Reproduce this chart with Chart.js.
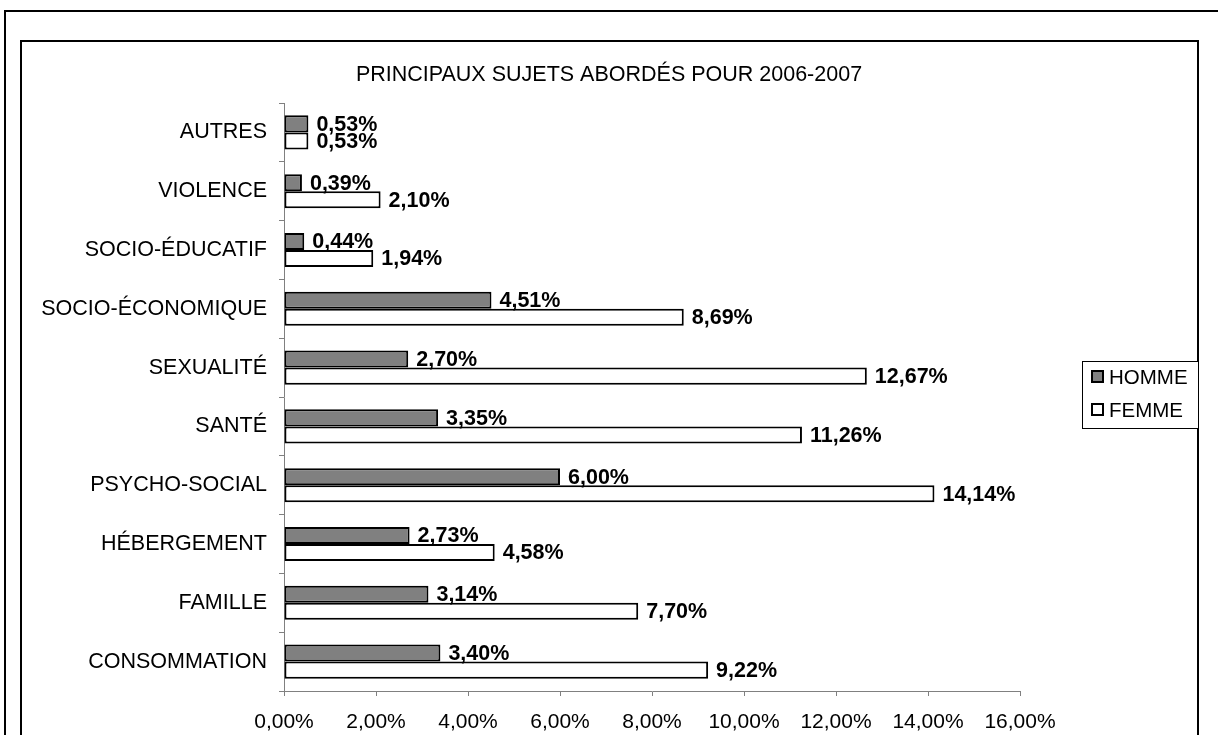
<!DOCTYPE html>
<html>
<head>
<meta charset="utf-8">
<script src="https://cdn.jsdelivr.net/npm/chart.js@4"></script>
<style>
  html, body { margin: 0; padding: 0; background: #fff; }
  #wrap { width: 1218px; height: 735px; position: relative; }
</style>
</head>
<body>
<div id="wrap"><canvas id="c"></canvas></div>
<script>
const chartTitle = 'PRINCIPAUX SUJETS ABORDÉS POUR 2006-2007';
const categories = ['AUTRES', 'VIOLENCE', 'SOCIO-ÉDUCATIF', 'SOCIO-ÉCONOMIQUE', 'SEXUALITÉ', 'SANTÉ', 'PSYCHO-SOCIAL', 'HÉBERGEMENT', 'FAMILLE', 'CONSOMMATION'];
const seriesNames = ['HOMME', 'FEMME'];
const homme = [0.53, 0.39, 0.44, 4.51, 2.70, 3.35, 6.00, 2.73, 3.14, 3.40];
const femme = [0.53, 2.10, 1.94, 8.69, 12.67, 11.26, 14.14, 4.58, 7.70, 9.22];
const xTicks = [0, 2, 4, 6, 8, 10, 12, 14, 16];

const FONT = "'Liberation Sans', Arial, sans-serif";
const fmt = v => v.toFixed(2).replace('.', ',') + '%';

const decorPlugin = {
  id: 'decor',
  beforeDraw(chart) {
    const ctx = chart.ctx;
    ctx.save();
    ctx.fillStyle = '#fff';
    ctx.fillRect(0, 0, chart.width, chart.height);
    ctx.strokeStyle = '#000';
    ctx.lineWidth = 2;
    // outer frame
    ctx.beginPath();
    ctx.moveTo(1230, 11);
    ctx.lineTo(5, 11);
    ctx.lineTo(5, 760);
    ctx.stroke();
    // inner frame
    ctx.beginPath();
    ctx.moveTo(21, 760);
    ctx.lineTo(21, 41);
    ctx.lineTo(1198, 41);
    ctx.lineTo(1198, 760);
    ctx.stroke();
    // title
    ctx.fillStyle = '#000';
    ctx.font = '21.5px ' + FONT;
    ctx.textAlign = 'center';
    ctx.textBaseline = 'middle';
    ctx.fillText(chartTitle, 609, 75);
    ctx.restore();
  },
  afterDraw(chart) {
    const ctx = chart.ctx;
    ctx.save();
    // data labels
    ctx.font = 'bold 21.5px ' + FONT;
    ctx.fillStyle = '#000';
    ctx.textAlign = 'left';
    ctx.textBaseline = 'middle';
    chart.data.datasets.forEach((ds, di) => {
      const meta = chart.getDatasetMeta(di);
      meta.data.forEach((el, i) => {
        ctx.fillText(fmt(ds.data[i]), el.x + 8, el.y + 1);
      });
    });
    // legend
    const lx = 1082, ly = 361, lw = 116, lh = 67;
    ctx.fillStyle = '#fff';
    ctx.fillRect(lx, ly, lw, lh);
    ctx.strokeStyle = '#000';
    ctx.lineWidth = 1;
    ctx.strokeRect(lx + 0.5, ly + 0.5, lw, lh);
    ctx.font = '20.5px ' + FONT;
    chart.data.datasets.forEach((ds, di) => {
      const cy = 377 + di * 33;
      ctx.fillStyle = ds.backgroundColor;
      ctx.fillRect(1092, cy - 6, 11, 11);
      ctx.strokeStyle = '#000';
      ctx.lineWidth = 2;
      ctx.strokeRect(1092, cy - 6, 11, 11);
      ctx.fillStyle = '#000';
      ctx.textAlign = 'left';
      ctx.textBaseline = 'middle';
      ctx.fillText(ds.label, 1109, cy + 1);
    });
    ctx.restore();
  }
};

new Chart(document.getElementById('c'), {
  type: 'bar',
  data: {
    labels: categories,
    datasets: [
      { label: seriesNames[0], data: homme, backgroundColor: '#808080', borderColor: '#000', borderWidth: 2, borderSkipped: false },
      { label: seriesNames[1], data: femme, backgroundColor: '#ffffff', borderColor: '#000', borderWidth: 2, borderSkipped: false }
    ]
  },
  options: {
    indexAxis: 'y',
    responsive: true,
    maintainAspectRatio: false,
    animation: false,
    devicePixelRatio: 1,
    categoryPercentage: 0.58,
    barPercentage: 1.0,
    layout: { padding: { left: 20, right: 198, top: 103, bottom: 0 } },
    plugins: {
      legend: { display: false },
      title: { display: false },
      tooltip: { enabled: false }
    },
    scales: {
      x: {
        min: 0, max: 16,
        afterBuildTicks(scale) { scale.ticks = xTicks.map(v => ({ value: v })); },
        afterFit(scale) { scale.height = 44; },
        ticks: {
          color: '#000',
          font: { family: FONT, size: 21 },
          padding: 14,
          maxRotation: 0,
          callback: v => fmt(v)
        },
        grid: { drawOnChartArea: false, drawTicks: true, tickLength: 5, color: '#808080', lineWidth: 1 },
        border: { display: true, color: '#808080', width: 1 }
      },
      y: {
        afterFit(scale) { scale.width = 264; },
        ticks: {
          color: '#000',
          font: { family: FONT, size: 21.5 },
          padding: 12
        },
        grid: { drawOnChartArea: false, drawTicks: true, tickLength: 5, color: '#808080', lineWidth: 1, offset: true },
        border: { display: true, color: '#808080', width: 1 }
      }
    }
  },
  plugins: [decorPlugin]
});
</script>
</body>
</html>
